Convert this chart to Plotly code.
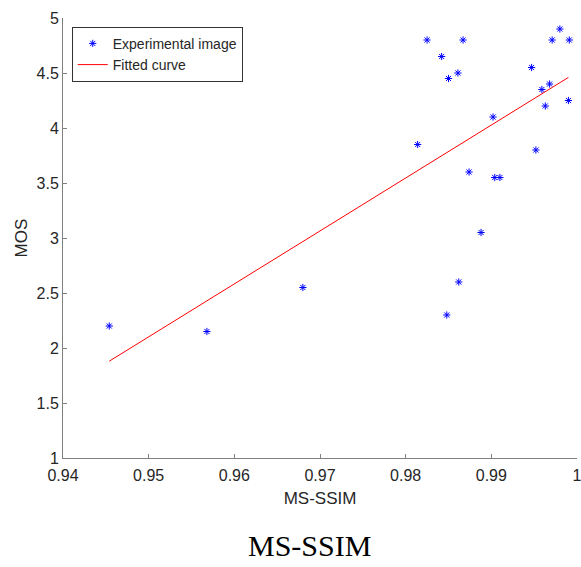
import plotly.graph_objects as go

# Experimental data (MS-SSIM vs MOS)
ms_ssim = [0.9454, 0.9568, 0.9680, 0.9814, 0.9825, 0.9842, 0.9850, 0.9861,
           0.9867, 0.9848, 0.9862, 0.9874, 0.9888, 0.9902, 0.9904, 0.9910,
           0.9947, 0.9952, 0.9959, 0.9963, 0.9968, 0.9971, 0.9980, 0.9991,
           0.9990]
mos = [2.20, 2.15, 2.55, 3.85, 4.80, 4.65, 4.45, 4.50,
       4.80, 2.30, 2.60, 3.60, 3.05, 4.10, 3.55, 3.55,
       4.55, 3.80, 4.35, 4.20, 4.40, 4.80, 4.90, 4.80,
       4.25]

# Fitted line endpoints
fit_x = [0.9454, 0.9990]
fit_y = [1.88, 4.46]

x_ticks = [0.94, 0.95, 0.96, 0.97, 0.98, 0.99, 1.0]
x_ticktext = ["0.94", "0.95", "0.96", "0.97", "0.98", "0.99", "1"]
y_ticks = [1, 1.5, 2, 2.5, 3, 3.5, 4, 4.5, 5]
y_ticktext = ["1", "1.5", "2", "2.5", "3", "3.5", "4", "4.5", "5"]

AX = "#808080"
TXT = "#262626"
SANS = "Liberation Sans, Arial, sans-serif"

fig = go.Figure()
fig.add_trace(go.Scatter(
    x=ms_ssim, y=mos, mode="markers", name="Experimental image",
    marker=dict(symbol="asterisk-open", color="blue", size=6,
                line=dict(color="blue", width=1)),
))
fig.add_trace(go.Scatter(
    x=fit_x, y=fit_y, mode="lines", name="Fitted curve",
    line=dict(color="red", width=1),
))

fig.update_layout(
    width=581, height=567,
    margin=dict(l=63, r=4, t=18, b=109),
    plot_bgcolor="white", paper_bgcolor="white",
    font=dict(family=SANS, color=TXT, size=16),
    showlegend=True,
    legend=dict(
        x=0.017, y=0.98, xanchor="left", yanchor="top",
        bgcolor="white", bordercolor="#333333", borderwidth=1,
        font=dict(family=SANS, size=14, color=TXT),
        tracegroupgap=0, itemwidth=30,
    ),
    xaxis=dict(
        range=[0.94, 1.0], tickvals=x_ticks, ticktext=x_ticktext,
        ticks="inside", ticklen=4, tickcolor=AX, tickwidth=1,
        showline=True, linecolor=AX, linewidth=1, mirror=False,
        showgrid=False, zeroline=False, ticklabeloverflow="allow",
        ticklabelstandoff=3, automargin=False,
        tickfont=dict(family=SANS, size=16, color=TXT),
        title=dict(text="MS-SSIM", font=dict(family=SANS, size=17, color=TXT), standoff=8),
    ),
    yaxis=dict(
        range=[1, 5], tickvals=y_ticks, ticktext=y_ticktext,
        ticks="inside", ticklen=4, tickcolor=AX, tickwidth=1,
        showline=True, linecolor=AX, linewidth=1, mirror=False,
        showgrid=False, zeroline=False, automargin=False,
        tickfont=dict(family=SANS, size=16, color=TXT),
        title=dict(text="MOS", font=dict(family=SANS, size=17, color=TXT), standoff=4),
    ),
    annotations=[dict(
        text="MS-SSIM", xref="paper", yref="paper", x=0.479, y=-0.198,
        xanchor="center", yanchor="middle", showarrow=False,
        font=dict(family="Liberation Serif, Times New Roman, serif", size=30, color="black"),
    )],
)

fig.write_html("out.html")
